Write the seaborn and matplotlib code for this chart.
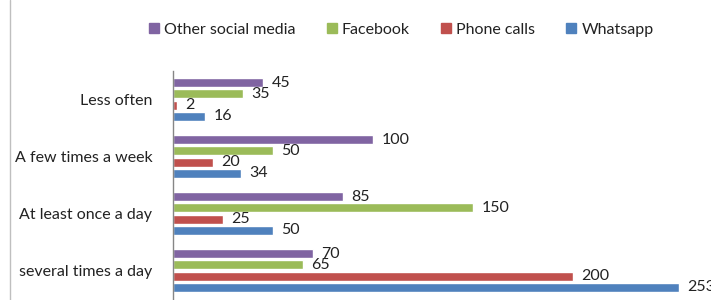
import matplotlib
matplotlib.use("Agg")
import matplotlib.pyplot as plt
import seaborn as sns
import pandas as pd
from matplotlib.lines import Line2D

categories = ["Less often", "A few times a week", "At least once a day", "several times a day"]
series = ["Other social media", "Facebook", "Phone calls", "Whatsapp"]
other_social = [45, 100, 85, 70]
facebook = [35, 50, 150, 65]
phone_calls = [2, 20, 25, 200]
whatsapp = [16, 34, 50, 253]
colors = ["#8064A2", "#9BBB59", "#C0504D", "#4F81BD"]

values = {
    "Other social media": other_social,
    "Facebook": facebook,
    "Phone calls": phone_calls,
    "Whatsapp": whatsapp,
}
rows = []
for s in series:
    for c, v in zip(categories, values[s]):
        rows.append({"category": c, "series": s, "value": v})
df = pd.DataFrame(rows)

sns.set_style("white")
plt.rcParams["font.family"] = ["Lato", "DejaVu Sans"]

fig = plt.figure(figsize=(7.11, 3.0), dpi=100)
ax = fig.add_axes([173 / 711, 1 / 300, 1 - 173 / 711, 228 / 300])

sns.barplot(data=df, y="category", x="value", hue="series", order=categories,
            hue_order=series, palette=colors, orient="h", width=0.78, gap=0.18,
            ax=ax, legend=False, saturation=1)

for cont in ax.containers:
    ax.bar_label(cont, padding=6, fontsize=11.5, color="#222222")

ax.set_xlim(0, 538 / 2)
ax.set_xlabel("")
ax.set_ylabel("")
ax.set_xticks([])
ax.tick_params(axis="y", length=0, pad=15, labelsize=11.5, labelcolor="#222222")
for sp in ["top", "right", "bottom"]:
    ax.spines[sp].set_visible(False)
ax.spines["left"].set_color("#868686")
ax.spines["left"].set_linewidth(1)

handles = [Line2D([0], [0], marker="s", linestyle="none", markersize=7,
                  markerfacecolor=c, markeredgecolor=c) for c in colors]
fig.legend(handles, series, loc="center", bbox_to_anchor=(401 / 711, 1 - 30 / 300),
           ncol=4, frameon=False, fontsize=11.5, handlelength=0.7, handletextpad=0.3,
           columnspacing=1.9, labelcolor="#222222")

fig.add_artist(Line2D([10 / 711, 10 / 711], [0, 1], color="#BFBFBF", linewidth=1))

fig.savefig("out.png", dpi=100)
